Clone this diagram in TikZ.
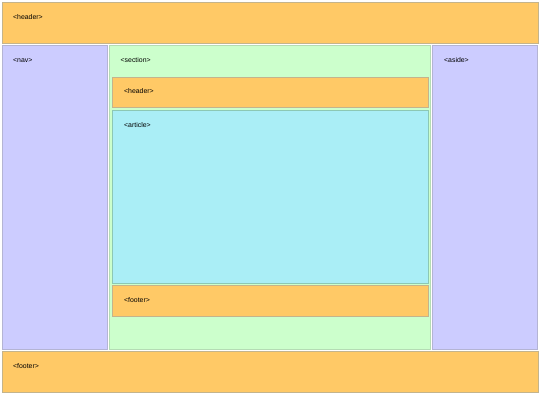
\documentclass[tikz,border=0pt]{standalone}
\usepackage{fontspec}
\setmainfont{Liberation Sans}
\usetikzlibrary{calc}
\definecolor{orng}{HTML}{FFC966}
\definecolor{orngb}{HTML}{C4B48C}
\definecolor{navc}{HTML}{CCCCFF}
\definecolor{navb}{HTML}{B4B4D4}
\definecolor{secc}{HTML}{CCFFCC}
\definecolor{secb}{HTML}{B4DCB4}
\definecolor{artc}{HTML}{AAEEF6}
\definecolor{artb}{HTML}{8CC8B4}
\tikzset{
  box/.style={rectangle, line width=0.9pt, inner sep=0pt, outer sep=0pt},
  obox/.style={box, fill=orng, draw=orngb},
  nbox/.style={box, fill=navc, draw=navb},
  sbox/.style={box, fill=secc, draw=secb},
  abox/.style={box, fill=artc, draw=artb},
  lbl/.style={anchor=west, inner sep=0pt, font=\fontsize{6.9}{8}\selectfont, text=black}
}
\begin{document}
\begin{tikzpicture}[x=1pt,y=-1pt]
\useasboundingbox[fill=white] (0,0) rectangle (540,405);
% boxes
\node[obox, minimum width=536pt, minimum height=41pt, anchor=north west] (header) at (2,2) {};
\node[nbox, minimum width=105.5pt, minimum height=304pt, anchor=north west] (nav) at (2,45) {};
\node[sbox, minimum width=321pt, minimum height=304pt, anchor=north west] (section) at (109.5,45) {};
\node[nbox, minimum width=105.5pt, minimum height=304pt, anchor=north west] (aside) at (432,45) {};
\node[obox, minimum width=316pt, minimum height=30.5pt, anchor=north west] (sheader) at (112,77) {};
\node[abox, minimum width=316pt, minimum height=173.5pt, anchor=north west] (article) at (112,110) {};
\node[obox, minimum width=316pt, minimum height=31pt, anchor=north west] (sfooter) at (112,285.5) {};
\node[obox, minimum width=536pt, minimum height=41.5pt, anchor=north west] (footer) at (2,351) {};
% labels
\node[lbl] (headerl) at ($(header.north west)+(11,15)$) {<header>};
\node[lbl] (navl) at ($(nav.north west)+(11,15.5)$) {<nav>};
\node[lbl] (sectionl) at ($(section.north west)+(11,15)$) {<section>};
\node[lbl] (asidel) at ($(aside.north west)+(12,15.5)$) {<aside>};
\node[lbl] (sheaderl) at ($(sheader.north west)+(12,14)$) {<header>};
\node[lbl] (articlel) at ($(article.north west)+(12,15)$) {<article>};
\node[lbl] (sfooterl) at ($(sfooter.north west)+(12,14.5)$) {<footer>};
\node[lbl] (footerl) at ($(footer.north west)+(11,15)$) {<footer>};
\end{tikzpicture}
\end{document}
